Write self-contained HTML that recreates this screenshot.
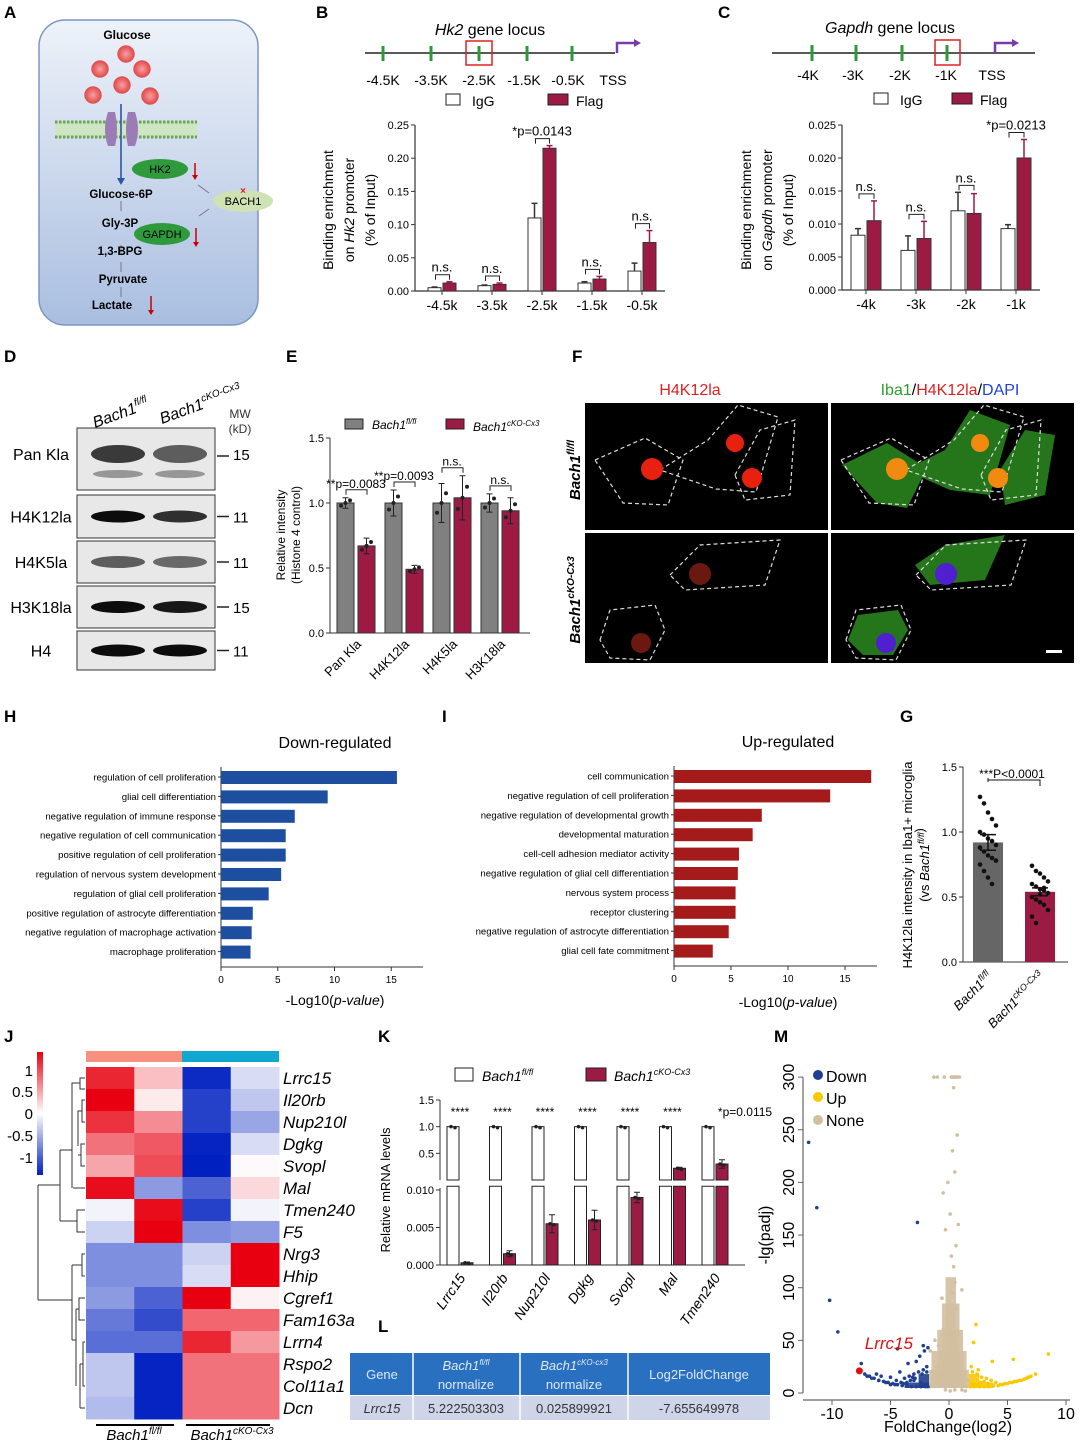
<!DOCTYPE html>
<html><head><meta charset="utf-8"><style>
html,body{margin:0;padding:0;background:#fff}
svg{display:block;font-family:"Liberation Sans",Arial,sans-serif}
</style></head><body>
<svg id="fig" width="1080" height="1443" viewBox="0 0 1080 1443" xmlns="http://www.w3.org/2000/svg">
<defs>
<linearGradient id="cellg" x1="0" y1="0" x2="0" y2="1"><stop offset="0" stop-color="#eef2f9"/><stop offset="1" stop-color="#a9bee0"/></linearGradient>
<radialGradient id="glu"><stop offset="0" stop-color="#f6a0a0"/><stop offset="1" stop-color="#e04848"/></radialGradient>
<linearGradient id="hmscale" x1="0" y1="0" x2="0" y2="1"><stop offset="0" stop-color="#e8000f"/><stop offset="0.5" stop-color="#ffffff"/><stop offset="1" stop-color="#0020c0"/></linearGradient>
</defs>
<g font-weight="bold" font-size="17">
<text x="4" y="18">A</text><text x="316" y="18">B</text><text x="718" y="18">C</text>
<text x="4" y="362">D</text><text x="286" y="362">E</text><text x="572" y="362">F</text>
<text x="4" y="722">H</text><text x="442" y="722">I</text><text x="900" y="722">G</text>
<text x="4" y="1042">J</text><text x="378" y="1042">K</text><text x="378" y="1332">L</text><text x="774" y="1042">M</text>
</g>

<!-- Panel A -->
<g>
<rect x="39" y="20" width="219" height="305" rx="26" fill="url(#cellg)" stroke="#7b96c6" stroke-width="1.5"/>
<text x="127" y="39" font-size="12" font-weight="bold" text-anchor="middle">Glucose</text>
<g fill="url(#glu)" stroke="#d55" stroke-width="0.5">
<circle cx="126" cy="54" r="8.5"/><circle cx="100" cy="69" r="8.5"/><circle cx="142" cy="69" r="8.5"/><circle cx="122" cy="85" r="8.5"/><circle cx="93" cy="95" r="8.5"/><circle cx="150" cy="96" r="8.5"/></g>
<rect x="55" y="121" width="142" height="17" fill="#cfe6c4"/>
<g stroke="#6aa356" stroke-width="3" stroke-dasharray="2.5 1.5"><line x1="55" y1="122" x2="197" y2="122"/><line x1="55" y1="137" x2="197" y2="137"/></g>
<path d="M108 112 q-6 18 0 34 h7 q4 -17 0 -34z M128 112 q-4 17 0 34 h7 q6 -16 0 -34z" fill="#9b7cb6"/>
<line x1="121" y1="104" x2="121" y2="180" stroke="#2a55a8" stroke-width="1.6"/>
<path d="M117 178 l4 7 l4 -7z" fill="#2a55a8"/>
<ellipse cx="160" cy="169" rx="28" ry="10" fill="#2f9a3c"/><text x="160" y="173" font-size="11" text-anchor="middle">HK2</text>
<ellipse cx="162" cy="234" rx="28" ry="11" fill="#2f9a3c"/><text x="162" y="238" font-size="11" text-anchor="middle">GAPDH</text>
<ellipse cx="243" cy="201" rx="30" ry="11" fill="#cfe2b4"/><text x="243" y="205" font-size="11" text-anchor="middle">BACH1</text>
<text x="243" y="194" font-size="10" fill="#d22" text-anchor="middle" font-weight="bold">×</text>
<g stroke="#c00" stroke-width="1.5"><line x1="195" y1="163" x2="195" y2="176"/><line x1="196" y1="228" x2="196" y2="243"/><line x1="151" y1="296" x2="151" y2="311"/></g>
<g fill="#c00"><path d="M192 175l3 5 3-5z"/><path d="M193 242l3 5 3-5z"/><path d="M148 310l3 5 3-5z"/></g>
<g stroke="#778" stroke-width="1"><line x1="209" y1="193" x2="198" y2="185"/><line x1="209" y1="209" x2="199" y2="216"/><line x1="121" y1="201" x2="121" y2="211"/><line x1="121" y1="245" x2="121" y2="255"/><line x1="121" y1="262" x2="121" y2="272"/><line x1="121" y1="287" x2="121" y2="297"/></g>
<g font-size="11.5" font-weight="bold" text-anchor="middle"><text x="121" y="198">Glucose-6P</text><text x="120" y="227">Gly-3P</text><text x="120" y="255">1,3-BPG</text><text x="123" y="283">Pyruvate</text><text x="112" y="309">Lactate</text></g>
</g>

<!-- Panel B -->
<g>
<text x="490" y="35" font-size="16" text-anchor="middle"><tspan font-style="italic">Hk2</tspan> gene locus</text>
<line x1="365" y1="53" x2="615" y2="53" stroke="#222" stroke-width="1.5"/>
<g stroke="#2a9a3a" stroke-width="3"><line x1="383" y1="46" x2="383" y2="61"/><line x1="431" y1="46" x2="431" y2="61"/><line x1="479" y1="46" x2="479" y2="61"/><line x1="527" y1="46" x2="527" y2="61"/><line x1="572" y1="46" x2="572" y2="61"/></g>
<rect x="466" y="41" width="26" height="24" fill="none" stroke="#d22" stroke-width="1.5"/>
<path d="M617 53 v-10 h18" stroke="#7a3aa8" stroke-width="2.5" fill="none"/><path d="M634 39 l7 4 -7 4z" fill="#7a3aa8"/>
<g font-size="14" text-anchor="middle"><text x="383" y="85">-4.5K</text><text x="431" y="85">-3.5K</text><text x="479" y="85">-2.5K</text><text x="524" y="85">-1.5K</text><text x="568" y="85">-0.5K</text><text x="613" y="85">TSS</text></g>
<g><rect x="446" y="94" width="14" height="11" fill="#fff" stroke="#222"/><text x="472" y="106" font-size="14">IgG</text><rect x="548" y="94" width="20" height="11" fill="#9b1b45" stroke="#222"/><text x="576" y="106" font-size="14">Flag</text></g>
<text transform="translate(333,210) rotate(-90)" font-size="14" text-anchor="middle">Binding enrichment</text>
<text transform="translate(354,210) rotate(-90)" font-size="14" text-anchor="middle">on <tspan font-style="italic">Hk2</tspan> promoter</text>
<text transform="translate(375,210) rotate(-90)" font-size="14" text-anchor="middle">(% of Input)</text>
<g id="chartB"></g>
</g>

<!-- Panel C -->
<g>
<text x="890" y="33" font-size="16" text-anchor="middle"><tspan font-style="italic">Gapdh</tspan> gene locus</text>
<line x1="772" y1="53" x2="1035" y2="53" stroke="#222" stroke-width="1.5"/>
<g stroke="#2a9a3a" stroke-width="3"><line x1="812" y1="45" x2="812" y2="61"/><line x1="856" y1="45" x2="856" y2="61"/><line x1="902" y1="45" x2="902" y2="61"/><line x1="947" y1="45" x2="947" y2="61"/></g>
<rect x="935" y="40" width="25" height="25" fill="none" stroke="#d22" stroke-width="1.5"/>
<path d="M995 53 v-10 h18" stroke="#7a3aa8" stroke-width="2.5" fill="none"/><path d="M1012 39 l7 4 -7 4z" fill="#7a3aa8"/>
<g font-size="14" text-anchor="middle"><text x="808" y="80">-4K</text><text x="853" y="80">-3K</text><text x="900" y="80">-2K</text><text x="946" y="80">-1K</text><text x="992" y="80">TSS</text></g>
<g><rect x="874" y="93" width="14" height="11" fill="#fff" stroke="#222"/><text x="900" y="105" font-size="14">IgG</text><rect x="952" y="93" width="20" height="11" fill="#9b1b45" stroke="#222"/><text x="980" y="105" font-size="14">Flag</text></g>
<text transform="translate(751,210) rotate(-90)" font-size="14" text-anchor="middle">Binding enrichment</text>
<text transform="translate(772,210) rotate(-90)" font-size="14" text-anchor="middle">on <tspan font-style="italic">Gapdh</tspan> promoter</text>
<text transform="translate(793,210) rotate(-90)" font-size="14" text-anchor="middle">(% of Input)</text>
<g id="chartC"></g>
</g>

<!-- Panel D -->
<g>
<text transform="translate(95,428) rotate(-20)" font-size="16"><tspan font-style="italic">Bach1</tspan><tspan font-size="10" dy="-7" font-style="italic">fl/fl</tspan></text>
<text transform="translate(162,424) rotate(-20)" font-size="16"><tspan font-style="italic">Bach1</tspan><tspan font-size="10" dy="-7" font-style="italic">cKO-Cx3</tspan></text>
<text x="240" y="418" font-size="12" text-anchor="middle" fill="#333">MW</text><text x="240" y="433" font-size="12" text-anchor="middle" fill="#333">(kD)</text>
<g id="blots"></g>
</g>

<!-- Panel E -->
<g>
<g><rect x="345" y="419" width="18" height="10" fill="#808080" stroke="#222"/><text x="372" y="429" font-size="12" font-style="italic">Bach1<tspan font-size="8" dy="-5">fl/fl</tspan></text>
<rect x="446" y="419" width="18" height="10" fill="#9b1b45" stroke="#222"/><text x="473" y="431" font-size="12" font-style="italic">Bach1<tspan font-size="8" dy="-5">cKO-Cx3</tspan></text></g>
<text transform="translate(285,535) rotate(-90)" font-size="12" text-anchor="middle">Relative intensity</text>
<text transform="translate(300,535) rotate(-90)" font-size="12" text-anchor="middle">(Histone 4 control)</text>
<g id="chartE"></g>
</g>

<!-- Panel F -->
<g>
<text x="690" y="395" font-size="16" fill="#e02020" text-anchor="middle">H4K12la</text>
<text x="950" y="395" font-size="16" text-anchor="middle"><tspan fill="#2aa02a">Iba1</tspan>/<tspan fill="#e02020">H4K12la</tspan>/<tspan fill="#2040e0">DAPI</tspan></text>
<text transform="translate(580,470) rotate(-90)" font-size="15" font-style="italic" font-weight="bold" text-anchor="middle">Bach1<tspan font-size="10" dy="-6">fl/fl</tspan></text>
<text transform="translate(580,600) rotate(-90)" font-size="15" font-style="italic" font-weight="bold" text-anchor="middle">Bach1<tspan font-size="10" dy="-6">cKO-Cx3</tspan></text>
<rect x="585" y="403" width="243" height="127" fill="#000"/><rect x="831" y="403" width="243" height="127" fill="#000"/>
<rect x="585" y="533" width="243" height="130" fill="#000"/><rect x="831" y="533" width="243" height="130" fill="#000"/>
<g fill="#2c8a20" opacity="0.85"><path d="M842 465 l45 -22 40 25 -20 40 -30 -5z"/><path d="M905 470 l40 -20 25 -40 40 15 -20 70 -40 -5z"/><path d="M1000 470 l25 -40 30 5 -10 60 -40 10z"/><path d="M915 565 l30 -20 60 -10 -20 45 -55 5z"/><path d="M848 640 l10 -25 40 -5 10 20 -15 25 -30 0z"/></g>
<g stroke="#ddd" stroke-width="1.2" stroke-dasharray="4 3" fill="none">
<path d="M595 460 l50 -22 38 22 -15 45 -45 -2z"/><path d="M660 470 l48 -30 30 -35 40 12 -22 75 -40 -3z"/><path d="M735 475 l25 -45 35 -10 -5 75 -45 5z"/>
<path d="M670 575 l30 -30 80 -5 -15 45 -80 5z"/><path d="M600 640 l10 -30 45 -5 10 25 -15 30 -40 -2z"/>
<path d="M841 460 l50 -22 38 22 -15 45 -45 -2z"/><path d="M906 470 l48 -30 30 -35 40 12 -22 75 -40 -3z"/><path d="M981 475 l25 -45 35 -10 -5 75 -45 5z"/>
<path d="M916 575 l30 -30 80 -5 -15 45 -80 5z"/><path d="M846 640 l10 -30 45 -5 10 25 -15 30 -40 -2z"/></g>
<g fill="#e82010"><circle cx="652" cy="469" r="11"/><circle cx="735" cy="443" r="9"/><circle cx="752" cy="478" r="10"/></g>
<g fill="#6a1810"><circle cx="700" cy="574" r="11"/><circle cx="641" cy="643" r="10"/></g>
<g fill="#f08a10"><circle cx="897" cy="469" r="11"/><circle cx="980" cy="443" r="9"/><circle cx="998" cy="478" r="10"/></g>
<g fill="#5020d0"><circle cx="946" cy="574" r="11"/><circle cx="886" cy="643" r="10"/></g>
<rect x="1046" y="650" width="16" height="3" fill="#fff"/>
</g>

<!-- Panel H and I -->
<g><text x="335" y="748" font-size="16" text-anchor="middle">Down-regulated</text>
<text x="335" y="1005" font-size="14" text-anchor="middle">-Log10(<tspan font-style="italic">p-value</tspan>)</text><g id="chartH"></g></g>
<g><text x="788" y="747" font-size="16" text-anchor="middle">Up-regulated</text>
<text x="788" y="1007" font-size="14" text-anchor="middle">-Log10(<tspan font-style="italic">p-value</tspan>)</text><g id="chartI"></g></g>

<!-- Panel G -->
<g>
<text transform="translate(912,865) rotate(-90)" font-size="13" text-anchor="middle">H4K12la intensity in Iba1+ microglia</text>
<text transform="translate(929,865) rotate(-90)" font-size="13" text-anchor="middle">(vs <tspan font-style="italic">Bach1<tspan font-size="9" dy="-5">fl/fl</tspan></tspan>)</text>
<g id="chartG"></g>
</g>

<!-- Panel J -->
<g>
<rect x="37" y="1052" width="6" height="123" fill="url(#hmscale)"/>
<g font-size="15" text-anchor="end"><text x="33" y="1076">1</text><text x="33" y="1097">0.5</text><text x="33" y="1119">0</text><text x="33" y="1141">-0.5</text><text x="33" y="1163">-1</text></g>
<rect x="86" y="1051" width="96" height="11" fill="#f89080"/><rect x="182" y="1051" width="97" height="11" fill="#10a8d0"/>
<g id="heat"></g>
<g stroke="#333" stroke-width="1" fill="none">
<path d="M85 1078 h-5 v11 h5 M80 1083 h-8 v30 M85 1100 h-3 v22 h3 M82 1111 h-4 v35 M85 1144 h-4 v22 h4 M81 1155 h-3 M85 1188 h-12 M72 1113 v75 M72 1150 h-12 M85 1210 h-8 v22 h8 M77 1221 h-17 M60 1150 v71 M60 1185 h-22 M85 1254 h-3 v22 h3 M82 1265 h-10 M85 1298 h-6 v22 h6 M79 1309 h-3 M85 1342 h-2 v44 h2 M83 1364 h-3 M85 1408 h-5 M80 1364 v44 M76 1309 v77 M76 1340 h-4 M72 1265 v75 M72 1300 h-34 M38 1185 v115"/></g>
<line x1="96" y1="1425" x2="174" y2="1425" stroke="#000" stroke-width="2"/><line x1="186" y1="1425" x2="270" y2="1425" stroke="#000" stroke-width="2"/>
<text x="134" y="1440" font-size="15" font-style="italic" text-anchor="middle">Bach1<tspan font-size="10" dy="-6">fl/fl</tspan></text>
<text x="232" y="1440" font-size="15" font-style="italic" text-anchor="middle">Bach1<tspan font-size="10" dy="-6">cKO-Cx3</tspan></text>
</g>

<!-- Panel K -->
<g>
<g><rect x="455" y="1068" width="18" height="13" fill="#fff" stroke="#222"/><text x="482" y="1081" font-size="14" font-style="italic">Bach1<tspan font-size="9" dy="-6">fl/fl</tspan></text>
<rect x="586" y="1068" width="20" height="13" fill="#9b1b45" stroke="#222"/><text x="614" y="1081" font-size="14" font-style="italic">Bach1<tspan font-size="9" dy="-6">cKO-Cx3</tspan></text></g>
<text transform="translate(390,1190) rotate(-90)" font-size="13" text-anchor="middle">Relative mRNA levels</text>
<g id="chartK"></g>
</g>

<!-- Panel L -->
<g>
<rect x="350" y="1353" width="420" height="42" fill="#2a70c0"/>
<rect x="350" y="1396" width="420" height="24" fill="#cfd5e8"/>
<g stroke="#fff" stroke-width="1.5"><line x1="413" y1="1353" x2="413" y2="1420"/><line x1="520" y1="1353" x2="520" y2="1420"/><line x1="628" y1="1353" x2="628" y2="1420"/></g>
<g fill="#dfe8f5" font-size="13" text-anchor="middle"><text x="382" y="1379">Gene</text><text x="466" y="1370" font-style="italic">Bach1<tspan font-size="8" dy="-5">fl/fl</tspan></text><text x="466" y="1389">normalize</text><text x="574" y="1370" font-style="italic">Bach1<tspan font-size="8" dy="-5">cKO-cx3</tspan></text><text x="574" y="1389">normalize</text><text x="699" y="1379">Log2FoldChange</text></g>
<g fill="#333" font-size="13" text-anchor="middle"><text x="382" y="1413" font-style="italic">Lrrc15</text><text x="466" y="1413">5.222503303</text><text x="574" y="1413">0.025899921</text><text x="699" y="1413">-7.655649978</text></g>
</g>

<!-- Panel M -->
<g>
<text transform="translate(770,1235) rotate(-90)" font-size="16" text-anchor="middle">-lg(padj)</text>
<text x="948" y="1432" font-size="16" text-anchor="middle">FoldChange(log2)</text>
<g id="chartM"></g>
<g><circle cx="818" cy="1075" r="5" fill="#1f3f8f"/><text x="826" y="1082" font-size="16">Down</text>
<circle cx="818" cy="1097" r="5" fill="#f8c800"/><text x="826" y="1104" font-size="16">Up</text>
<circle cx="818" cy="1120" r="5" fill="#d2bfa0"/><text x="826" y="1126" font-size="16">None</text></g>
</g>
</svg>
<script>
const NS='http://www.w3.org/2000/svg';
function mk(parent,tag,attrs,text){const e=document.createElementNS(NS,tag);for(const k in attrs)e.setAttribute(k,attrs[k]);if(text!==undefined)e.textContent=text;parent.appendChild(e);return e;}
const MAROON='#9b1b45';

// ---------- B data
const bCats=['-4.5k','-3.5k','-2.5k','-1.5k','-0.5k'];
const bIgG=[0.005,0.008,0.11,0.012,0.03];
const bIgGErr=[0.001,0.001,0.022,0.002,0.012];
const bFlag=[0.012,0.01,0.215,0.018,0.073];
const bFlagErr=[0.002,0.002,0.004,0.004,0.018];
const bTicks=[0,0.05,0.10,0.15,0.20,0.25];
const bTickLabels=['0.00','0.05','0.10','0.15','0.20','0.25'];
const bSig=['n.s.','n.s.','*p=0.0143','n.s.','n.s.'];
// ---------- C data
const cCats=['-4k','-3k','-2k','-1k'];
const cIgG=[0.0083,0.006,0.012,0.0093];
const cIgGErr=[0.001,0.0022,0.0028,0.0006];
const cFlag=[0.0105,0.0078,0.0116,0.020];
const cFlagErr=[0.003,0.0026,0.003,0.0028];
const cTicks=[0,0.005,0.010,0.015,0.020,0.025];
const cTickLabels=['0.000','0.005','0.010','0.015','0.020','0.025'];
const cSig=['n.s.','n.s.','n.s.','*p=0.0213'];

function groupedChart(g,o){
  const y=v=>o.y0-(v/o.max)*(o.y0-o.y1);
  const xc=i=>o.x0+o.first+i*o.step;
  mk(g,'line',{x1:o.ax,y1:o.y1,x2:o.ax,y2:o.y0,stroke:'#333','stroke-width':1.2});
  mk(g,'line',{x1:o.ax,y1:o.y0,x2:o.xEnd,y2:o.y0,stroke:'#333','stroke-width':1.2});
  o.ticks.forEach((t,i)=>{mk(g,'line',{x1:o.ax-4,x2:o.ax,y1:y(t),y2:y(t),stroke:'#333'});mk(g,'text',{x:o.ax-6,y:y(t)+4,'font-size':o.fs||11,'text-anchor':'end'},o.tickLabels[i]);});
  o.cats.forEach((c,i)=>{
    const cx=xc(i),w=o.bw;
    [[o.a,o.ae,'#fff',-1],[o.b,o.be,o.colB||MAROON,1]].forEach(([arr,err,col,s])=>{
      const bx=s<0?cx-w-1:cx+1;
      const r=mk(g,'rect',{x:bx,y:y(arr[i]),width:w,height:o.y0-y(arr[i]),fill:col,stroke:'#333','stroke-width':1});
      
      
      const mx=bx+w/2;
      mk(g,'line',{x1:mx,x2:mx,y1:y(arr[i]),y2:y(arr[i]+err[i]),stroke:col=='#fff'?'#333':col,'stroke-width':1.5});
      mk(g,'line',{x1:mx-3,x2:mx+3,y1:y(arr[i]+err[i]),y2:y(arr[i]+err[i]),stroke:col=='#fff'?'#333':col,'stroke-width':1.5});
    });
    const top=Math.max(o.a[i]+o.ae[i],o.b[i]+o.be[i]);
    const by=y(top)-7;
    mk(g,'path',{d:`M${cx-w/2} ${by+5}v-5h${w+1}v5`,stroke:'#222',fill:'none'});
    mk(g,'text',{x:cx,y:by-3,'font-size':o.sfs||13,'text-anchor':'middle'},o.sig[i]);
    mk(g,'line',{x1:cx,x2:cx,y1:o.y0,y2:o.y0+4,stroke:'#333'});
    mk(g,'text',{x:cx,y:o.y0+19,'font-size':14,'text-anchor':'middle'},c);
  });
}
groupedChart(document.getElementById('chartB'),{cats:bCats,a:bIgG,ae:bIgGErr,b:bFlag,be:bFlagErr,ticks:bTicks,tickLabels:bTickLabels,sig:bSig,max:0.25,y0:291,y1:125,ax:415,x0:415,first:27,step:50,xEnd:665,bw:13});
groupedChart(document.getElementById('chartC'),{cats:cCats,a:cIgG,ae:cIgGErr,b:cFlag,be:cFlagErr,ticks:cTicks,tickLabels:cTickLabels,sig:cSig,max:0.025,y0:290,y1:125,ax:842,x0:842,first:24,step:50,xEnd:1040,bw:14});

// ---------- D blots
const blotNames=['Pan Kla','H4K12la','H4K5la','H3K18la','H4'];
const blotMW=['15','11','11','15','11'];
const blotIntensity=[[0.75,0.6],[0.95,0.8],[0.6,0.55],[0.95,0.9],[0.95,0.95]];
const blotRows=[[428,490],[495,538],[541,583],[586,628],[631,670]];
(function(){const g=document.getElementById('blots');
blotNames.forEach((n,i)=>{const[y0,y1]=blotRows[i];const yc=(y0+y1)/2-(i==0?5:0);
 const box=mk(g,'rect',{x:77,y:y0,width:138,height:y1-y0,fill:'#e8e8e8',stroke:'#333'});
 
 
 blotIntensity[i].forEach((v,j)=>{mk(g,'ellipse',{cx:j?180:118,cy:yc,rx:27,ry:(i==0?9:6),fill:'#000',opacity:v});});
 if(i==0)blotIntensity[i].forEach((v,j)=>{mk(g,'ellipse',{cx:j?180:118,cy:yc+20,rx:25,ry:4,fill:'#444',opacity:0.5});});
 mk(g,'text',{x:41,y:yc+6,'font-size':16,'text-anchor':'middle'},n);
 mk(g,'line',{x1:217,x2:229,y1:yc-(i==0?-2:0),y2:yc-(i==0?-2:0),stroke:'#222','stroke-width':1.5});
 mk(g,'text',{x:233,y:yc+6,'font-size':15},blotMW[i]);});})();

// ---------- E
const eCats=['Pan Kla','H4K12la','H4K5la','H3K18la'];
const eCtrl=[1.0,1.0,1.0,1.0];
const eCtrlErr=[0.04,0.1,0.15,0.07];
const eKO=[0.67,0.49,1.04,0.94];
const eKOErr=[0.06,0.03,0.17,0.1];
const eTicks=[0,0.5,1.0,1.5];
const eTickLabels=['0.0','0.5','1.0','1.5'];
const eSig=['**p=0.0083','**p=0.0093','n.s.','n.s.'];
(function(){const g=document.getElementById('chartE');const y0=633,y1=438,max=1.5,ax=330;
const y=v=>y0-v/max*(y0-y1);
mk(g,'line',{x1:ax,x2:ax,y1:y1,y2:y0,stroke:'#333'});mk(g,'line',{x1:ax,x2:530,y1:y0,y2:y0,stroke:'#333'});
eTicks.forEach((t,i)=>{mk(g,'line',{x1:ax-4,x2:ax,y1:y(t),y2:y(t),stroke:'#333'});mk(g,'text',{x:ax-6,y:y(t)+4,'font-size':11,'text-anchor':'end'},eTickLabels[i]);});
eCats.forEach((c,i)=>{const cx=356+i*48;
 [[eCtrl,eCtrlErr,'#808080',cx-19],[eKO,eKOErr,MAROON,cx+2]].forEach(([a,e,col,bx],k)=>{
  const r=mk(g,'rect',{x:bx,y:y(a[i]),width:17,height:y0-y(a[i]),fill:col,stroke:'#333'});
  
  
  mk(g,'path',{d:`M${bx+8.5} ${y(a[i])}V${y(a[i]+e[i])}m-3 0h6M${bx+8.5} ${y(a[i])}V${y(a[i]-e[i])}m-3 0h6`,stroke:'#222',fill:'none'});
  [-0.05,0,0.05].forEach((d,m)=>mk(g,'circle',{cx:bx+4+m*4.5,cy:y(a[i]+d*(m==1?-1:1)*(e[i]*10)),r:2,fill:'#222'}));
 });
 const top=Math.max(eCtrl[i]+eCtrlErr[i],eKO[i]+eKOErr[i]);const by=y(top)-8;
 mk(g,'path',{d:`M${cx-10} ${by+5}v-5h21v5`,stroke:'#222',fill:'none'});
 mk(g,'text',{x:cx,y:by-2,'font-size':12,'text-anchor':'middle'},eSig[i]);
 mk(g,'text',{transform:`translate(${cx+6},${y0+12}) rotate(-45)`,'font-size':13,'text-anchor':'end'},c);
});})();

// ---------- H / I
const hTerms=['regulation of cell proliferation','glial cell differentiation','negative regulation of immune response','negative regulation of cell communication','positive regulation of cell proliferation','regulation of nervous system development','regulation of glial cell proliferation','positive regulation of astrocyte differentiation','negative regulation of macrophage activation','macrophage proliferation'];
const hVals=[15.5,9.4,6.5,5.7,5.7,5.3,4.2,2.8,2.7,2.6];
const iTerms=['cell communication','negative regulation of cell proliferation','negative regulation of developmental growth','developmental maturation','cell-cell adhesion mediator activity','negative regulation of glial cell differentiation','nervous system process','receptor clustering','negative regulation of astrocyte differentiation','glial cell fate commitment'];
const iVals=[17.3,13.7,7.7,6.9,5.7,5.6,5.4,5.4,4.8,3.4];
const goTicks=[0,5,10,15];
function goChart(g,terms,vals,ax,ppu,col,ytop,step,id){
 const x=v=>ax+v*ppu;const yEnd=ytop+step*terms.length-4;
 mk(g,'line',{x1:ax,x2:ax,y1:ytop-10,y2:yEnd,stroke:'#333'});
 mk(g,'line',{x1:ax,x2:x(17.8),y1:yEnd,y2:yEnd,stroke:'#333'});
 goTicks.forEach(t=>{mk(g,'line',{x1:x(t),x2:x(t),y1:yEnd,y2:yEnd+4,stroke:'#333'});mk(g,'text',{x:x(t),y:yEnd+16,'font-size':10,'text-anchor':'middle'},String(t));});
 terms.forEach((t,i)=>{const yc=ytop+i*step;
  const r=mk(g,'rect',{x:ax,y:yc-6,width:vals[i]*ppu,height:13,fill:col});
  
  
  mk(g,'line',{x1:ax-3,x2:ax,y1:yc,y2:yc,stroke:'#333'});
  mk(g,'text',{x:ax-5,y:yc+3.5,'font-size':9.6,'text-anchor':'end'},t);});
}
goChart(document.getElementById('chartH'),hTerms,hVals,221,11.35,'#1e4ea0',777,19.4,'down');
goChart(document.getElementById('chartI'),iTerms,iVals,674,11.4,'#a51a1a',776,19.4,'up');

// ---------- G
const gVals=[0.92,0.54];
const gErr=[0.06,0.03];
const gDots0=[1.27,1.22,1.15,1.1,1.05,1.0,0.98,0.95,0.93,0.9,0.88,0.85,0.82,0.8,0.78,0.75,0.7,0.65,0.6];
const gDots1=[0.74,0.7,0.68,0.65,0.62,0.6,0.58,0.56,0.55,0.53,0.5,0.48,0.46,0.44,0.4,0.35,0.3,0.52,0.57];
const gTicks=[0,0.5,1.0,1.5];
const gTickLabels=['0.0','0.5','1.0','1.5'];
(function(){const g=document.getElementById('chartG');const y0=962,y1=767,ax=963;const y=v=>y0-v/1.5*(y0-y1);
mk(g,'line',{x1:ax,x2:ax,y1:y1,y2:y0,stroke:'#333'});mk(g,'line',{x1:ax,x2:1068,y1:y0,y2:y0,stroke:'#333'});
gTicks.forEach((t,i)=>{mk(g,'line',{x1:ax-4,x2:ax,y1:y(t),y2:y(t),stroke:'#333'});mk(g,'text',{x:ax-6,y:y(t)+4,'font-size':11,'text-anchor':'end'},gTickLabels[i]);});
const cols=['#666','#9b1b45'];const xs=[988,1040];
gVals.forEach((v,i)=>{const r=mk(g,'rect',{x:xs[i]-15,y:y(v),width:30,height:y0-y(v),fill:cols[i]});
 
 
 mk(g,'path',{d:`M${xs[i]} ${y(v-gErr[i])}V${y(v+gErr[i])}m-8 0h16m-16 ${y(v-gErr[i])-y(v+gErr[i])}h16`,stroke:'#111','stroke-width':1.5,fill:'none'});
 (i?gDots1:gDots0).forEach((d,k)=>mk(g,'circle',{cx:xs[i]+((k%5)-2)*4,cy:y(d),r:2.3,fill:'#111'}));});
mk(g,'path',{d:`M988 ${y(1.4)-2}v4M988 ${y(1.4)}h52v6`,stroke:'#111',fill:'none'});
mk(g,'text',{x:1012,y:y(1.4)-2,'font-size':12,'text-anchor':'middle'},'***P<0.0001');
const t1=mk(g,'text',{transform:`translate(993,977) rotate(-45)`,'font-size':13,'font-style':'italic','text-anchor':'end'});
t1.innerHTML='Bach1<tspan font-size="9" dy="-5">fl/fl</tspan>';
const t2=mk(g,'text',{transform:`translate(1045,977) rotate(-45)`,'font-size':13,'font-style':'italic','text-anchor':'end'});
t2.innerHTML='Bach1<tspan font-size="9" dy="-5">cKO-Cx3</tspan>';})();

// ---------- J heatmap
const jGenes=['Lrrc15','Il20rb','Nup210l','Dgkg','Svopl','Mal','Tmen240','F5','Nrg3','Hhip','Cgref1','Fam163a','Lrrn4','Rspo2','Col11a1','Dcn'];
const jVals=[[0.85,0.25,-0.95,-0.15],[1.0,0.08,-0.85,-0.25],[0.8,0.45,-0.85,-0.4],[0.55,0.65,-0.98,-0.15],[0.35,0.7,-1.0,0.02],[0.95,-0.45,-0.7,0.15],[-0.05,0.95,-0.85,-0.05],[-0.2,1.0,-0.5,-0.45],[-0.5,-0.5,-0.2,1.0],[-0.5,-0.5,-0.15,1.0],[-0.45,-0.7,1.0,0.05],[-0.6,-0.8,0.6,0.6],[-0.65,-0.65,0.85,0.4],[-0.25,-0.98,0.55,0.55],[-0.25,-0.98,0.55,0.55],[-0.3,-0.98,0.55,0.55]];
function hcol(v){v=Math.max(-1,Math.min(1,v));let r,g,b;if(v>=0){r=255-(255-232)*v;g=255*(1-v);b=255-(255-16)*v;}else{const a=-v;r=255*(1-a);g=255-(255-32)*a;b=255-(255-192)*a;}return `rgb(${r|0},${g|0},${b|0})`;}
(function(){const g=document.getElementById('heat');const x0=86,cw=48.25,y0=1067,rh=22;
jGenes.forEach((n,i)=>{jVals[i].forEach((v,j)=>{const c=mk(g,'rect',{x:x0+j*cw,y:y0+i*rh,width:cw+0.5,height:rh+0.5,fill:hcol(v)});
 
 });
 mk(g,'text',{x:283,y:y0+i*rh+17,'font-size':17,'font-style':'italic'},n);});})();

// ---------- K
const kGenes=['Lrrc15','Il20rb','Nup210l','Dgkg','Svopl','Mal','Tmen240'];
const kCtrl=[1.0,1.0,1.0,1.0,1.0,1.0,1.0];
const kKO=[0.0003,0.0015,0.0055,0.006,0.009,0.22,0.3];
const kKOErr=[0.0001,0.0004,0.0012,0.0013,0.0007,0.02,0.08];
const kSig=['****','****','****','****','****','****','*p=0.0115'];
const kTopTicks=[0.5,1.0,1.5];
const kTopLabels=['0.5','1.0','1.5'];
const kBotTicks=[0,0.005,0.010];
const kBotLabels=['0.000','0.005','0.010'];
(function(){const g=document.getElementById('chartK');const ax=440;
const yT=v=>1180-(v/1.5)*80; const yB=v=>1265-(v/0.010)*75;
const yv=v=>v>0.0105?yT(v):yB(v);
mk(g,'line',{x1:ax,x2:ax,y1:1100,y2:1180,stroke:'#333'});mk(g,'line',{x1:ax,x2:ax,y1:1188,y2:1265,stroke:'#333'});
mk(g,'line',{x1:ax,x2:745,y1:1265,y2:1265,stroke:'#333'});
kTopTicks.forEach((t,i)=>{mk(g,'line',{x1:ax-4,x2:ax,y1:yT(t),y2:yT(t),stroke:'#333'});mk(g,'text',{x:ax-6,y:yT(t)+4,'font-size':11,'text-anchor':'end'},kTopLabels[i]);});
kBotTicks.forEach((t,i)=>{mk(g,'line',{x1:ax-4,x2:ax,y1:yB(t),y2:yB(t),stroke:'#333'});mk(g,'text',{x:ax-6,y:yB(t)+4,'font-size':11,'text-anchor':'end'},kBotLabels[i]);});
kGenes.forEach((n,i)=>{const cx=460+i*42.5;
 [[kCtrl[i],0,'#fff',cx-13],[kKO[i],kKOErr[i],MAROON,cx+1]].forEach(([v,e,col,bx],k)=>{
  const segs=v>0.0105?[[yB(0.0105),1265],[yT(v),1180]]:[[yB(v),1265]];
  segs.forEach(([a,b])=>{const r=mk(g,'rect',{x:bx,y:a,width:12,height:b-a,fill:col,stroke:'#222'});
   
   });
  if(e)mk(g,'path',{d:`M${bx+6} ${yv(v-e)}V${yv(v+e)}m-3 0h6m-6 ${yv(v-e)-yv(v+e)}h6`,stroke:'#222',fill:'none'});
  mk(g,'circle',{cx:bx+4,cy:yv(v),r:1.8,fill:'#222'});mk(g,'circle',{cx:bx+8,cy:yv(v)+1,r:1.8,fill:'#222'});
 });
 mk(g,'text',{x:cx+(i==6?30:0),y:1116,'font-size':12,'text-anchor':'middle'},kSig[i]);
 mk(g,'text',{transform:`translate(${cx+6},1278) rotate(-55)`,'font-size':14,'font-style':'italic','text-anchor':'end'},n);
});})();

// ---------- M volcano
const mTicksX=[-10,-5,0,5,10];
const mTicksY=[0,50,100,150,200,250,300];
const mNoneFC=[-1.6,-1.5,-1.2,-1,-0.8,-0.6,-0.4,-0.2,0,0.2,0.4,0.6,0.8,1,1.2,1.5,-1.4,-1.1,-0.7,-0.3,0.1,0.3,0.5,0.7,0.9,1.3,-0.9,-0.5,0,0.4,-0.2,0.2,0.6,-0.6,0.3,0.5,0.4,0.2,0.6,-0.3,0.1,-0.1,0.5,0.3,0.7,0.4,-0.5,0.8,1.1,-1.3,-1.6,-1.2,-0.8,-0.4,0,0.4,0.8,1.2,1.6,-0.2,0.2,-0.6,0.6,-1,1,0.2,0.5,0.6,0.4,0.3,0.7,-0.4,0.9,-1.3,-1,-0.3,0.1,0.5,1.1,1.4];
const mNoneP=[6,8,10,12,9,11,7,13,9,12,8,10,11,9,7,6,20,25,30,35,40,30,45,28,22,18,45,60,55,65,70,75,80,90,95,105,120,130,140,155,170,200,210,230,245,290,190,160,98,30,40,50,15,18,22,20,16,14,12,50,55,35,38,25,25,300,300,300,300,300,300,300,300,300,300,3,2,3,3,2];
const mDownFC=[-7.6,-7.2,-6.8,-6.4,-6,-5.6,-5.2,-4.8,-4.4,-4,-3.6,-3.2,-2.8,-2.4,-2,-1.8,-6.2,-5.8,-5.0,-4.5,-4.2,-3.8,-3.4,-3.0,-2.6,-2.2,-1.9,-2.8,-2.5,-2.1,-3.5,-4.4,-12,-11.3,-10.2,-9.5,-2.7,-7.5,-1.8,-2.2,-3.0,-2.4,-7.0,-6.6,-6.0,-5.4,-5.0,-4.6,-4.1,-3.3,-2.9,-2.3,-1.9,-3.9,-3.6,-3.1];
const mDownP=[20,18,16,14,12,11,10,9,8,7,7,6,6,6,6,6,18,16,15,12,20,14,16,18,20,22,25,30,35,40,28,42,238,176,88,58,162,28,43,45,12,10,16,14,12,10,8,8,10,12,14,18,20,9,10,15];
const mUpFC=[1.8,2.2,2.6,3,3.4,3.8,4.2,4.6,5,5.4,5.8,6.2,6.6,7,7.4,2,2.4,2.8,3.2,3.6,4,2.3,2.1,3.7,5.5,8.5,1.9,2.5,3.0,4.4,4.8,5.2,5.6,6.0,6.4,6.8,2.7,3.3];
const mUpP=[6,6,6,6,6,7,7,8,9,10,11,12,14,16,18,20,18,15,14,12,10,65,48,30,32,37,25,22,11,8,9,10,11,12,13,15,10,9];
(function(){const g=document.getElementById('chartM');const x=v=>949+v*11.7,y=v=>1393-v*1.053;
mk(g,'line',{x1:803,x2:803,y1:y(0),y2:y(300),stroke:'#666','stroke-width':1.2});mk(g,'line',{x1:803,x2:1070,y1:1400,y2:1400,stroke:'#666','stroke-width':1.2});
mTicksX.forEach(t=>{mk(g,'line',{x1:x(t),x2:x(t),y1:1400,y2:1405,stroke:'#666'});mk(g,'text',{x:x(t),y:1419,'font-size':16,'text-anchor':'middle'},String(t));});
mTicksY.forEach(t=>{mk(g,'line',{x1:798,x2:803,y1:y(t),y2:y(t),stroke:'#666'});mk(g,'text',{transform:`translate(794,${y(t)}) rotate(-90)`,'font-size':16,'text-anchor':'middle'},String(t));});
// dense core regions: [fcMin,fcMax,pMax]
const coreNone=[[-1.7,1.7,22],[-1.5,1.5,40],[-1.0,1.2,60],[-0.6,0.9,85],[-0.3,0.6,110]];
const coreDown=[[-3.8,-1.7,10],[-2.6,-1.7,18]];
const coreUp=[[1.7,3.8,10],[1.7,2.6,18]];
[[coreDown,'#1f3f8f'],[coreUp,'#f8c800'],[coreNone,'#d2bfa0']].forEach(([cs,col])=>cs.forEach(c=>{mk(g,'rect',{x:x(c[0]),y:y(c[2]),width:x(c[1])-x(c[0]),height:y(0)-y(c[2])-5,fill:col,opacity:0.9});}));
mNoneFC.forEach((v,i)=>{const c=mk(g,'circle',{cx:x(v),cy:y(mNoneP[i]),r:1.8,fill:'#d2bfa0'});});
mDownFC.forEach((v,i)=>{const c=mk(g,'circle',{cx:x(v),cy:y(mDownP[i]),r:1.8,fill:'#1f3f8f'});});
mUpFC.forEach((v,i)=>{const c=mk(g,'circle',{cx:x(v),cy:y(mUpP[i]),r:1.8,fill:'#f8c800'});});
mk(g,'circle',{cx:x(-7.66),cy:y(21),r:3.5,fill:'#e01010'});
mk(g,'text',{x:x(-7.2),y:y(42),'font-size':17,'font-style':'italic',fill:'#e01010'},'Lrrc15');})();
</script>
</body></html>
